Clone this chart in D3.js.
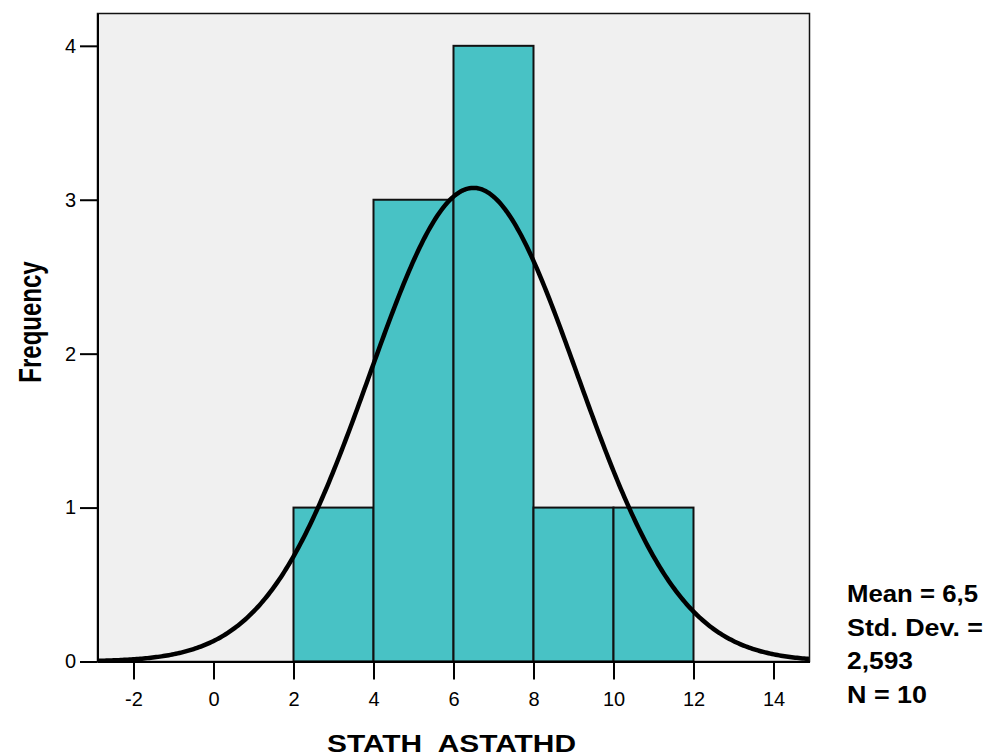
<!DOCTYPE html>
<html>
<head>
<meta charset="utf-8">
<script src="https://cdn.jsdelivr.net/npm/d3@7"></script>
<style>
  html, body { margin: 0; padding: 0; background: #ffffff; }
  svg { display: block; font-family: "Liberation Sans", Arial, sans-serif; }
</style>
</head>
<body>
<svg id="chart" width="985" height="756"></svg>
<script>
// Histogram bins (lower edge, upper edge) and counts
const binStarts = [2, 4, 6, 8, 10];
const binEnds = [4, 6, 8, 10, 12];
const binCounts = [1, 3, 4, 1, 1];

// Summary statistics for the normal curve
const meanValue = 6.5;
const stdDev = 2.593;
const nCases = 10;

const xTicks = [-2, 0, 2, 4, 6, 8, 10, 12, 14];
const yTicks = [0, 1, 2, 3, 4];
const xDomain = [-2.9, 14.9];
const yDomain = [0, 4.21];

const legendLines = ["Mean = 6,5", "Std. Dev. =", "2,593", "N = 10"];
const legendWidths = [131, 136, 66, 80];
const xTitle = "STATH  ASTATHD";
const yTitle = "Frequency";

const svg = d3.select("#chart");
const plot = { left: 97.5, right: 809.5, top: 13.5, bottom: 661.5 };

const x = d3.scaleLinear().domain(xDomain).range([plot.left, plot.right]);
const y = d3.scaleLinear().domain(yDomain).range([plot.bottom, plot.top]);

// plot background
svg.append("rect")
  .attr("x", plot.left).attr("y", plot.top)
  .attr("width", plot.right - plot.left).attr("height", plot.bottom - plot.top)
  .attr("fill", "#f0f0f0");

// bars
const bins = binStarts.map((s, i) => ({ x0: s, x1: binEnds[i], n: binCounts[i] }));
svg.append("g").selectAll("rect").data(bins).join("rect")
  .attr("x", d => x(d.x0))
  .attr("y", d => y(d.n))
  .attr("width", d => x(d.x1) - x(d.x0))
  .attr("height", d => y(0) - y(d.n))
  .attr("fill", "#48c2c5")
  .attr("stroke", "#111")
  .attr("stroke-width", 2);

// normal curve scaled to counts: N * binWidth * pdf
const binWidth = binEnds[0] - binStarts[0];
const pdf = v => Math.exp(-0.5 * ((v - meanValue) / stdDev) ** 2) / (stdDev * Math.sqrt(2 * Math.PI));
const curvePts = d3.range(0, 401).map(i => {
  const v = xDomain[0] + (xDomain[1] - xDomain[0]) * i / 400;
  return [v, nCases * binWidth * pdf(v)];
});
svg.append("path")
  .datum(curvePts)
  .attr("d", d3.line().x(d => x(d[0])).y(d => y(d[1])))
  .attr("fill", "none")
  .attr("stroke", "#000")
  .attr("stroke-width", 4.5)
  .attr("stroke-linecap", "butt");

// frame
svg.append("rect")
  .attr("x", plot.left).attr("y", plot.top)
  .attr("width", plot.right - plot.left).attr("height", plot.bottom - plot.top)
  .attr("fill", "none")
  .attr("stroke", "#111")
  .attr("stroke-width", 1.5);

// x axis
const xAxis = svg.append("g")
  .attr("transform", `translate(0,${plot.bottom})`)
  .call(d3.axisBottom(x).tickValues(xTicks).tickSize(18).tickSizeOuter(0).tickPadding(12).tickFormat(d => String(d)));
xAxis.select(".domain").attr("stroke", "#000").attr("stroke-width", 2);
xAxis.selectAll(".tick line").attr("stroke", "#000").attr("stroke-width", 2);
xAxis.selectAll(".tick text")
  .style("font-size", "20px")
  .style("font-family", "'Liberation Sans', Arial, sans-serif")
  .attr("fill", "#000");

// y axis
const yAxis = svg.append("g")
  .attr("transform", `translate(${plot.left},0)`)
  .call(d3.axisLeft(y).tickValues(yTicks).tickSize(17.5).tickSizeOuter(0).tickPadding(4).tickFormat(d => String(d)));
yAxis.select(".domain").attr("stroke", "#000").attr("stroke-width", 2);
yAxis.selectAll(".tick line").attr("stroke", "#000").attr("stroke-width", 2);
yAxis.selectAll(".tick text")
  .style("font-size", "20px")
  .style("font-family", "'Liberation Sans', Arial, sans-serif")
  .attr("fill", "#000");

// axis titles
svg.append("text")
  .attr("x", 451.5)
  .attr("y", 752)
  .attr("text-anchor", "middle")
  .attr("font-size", 24).attr("font-weight", "bold")
  .attr("textLength", 249)
  .attr("lengthAdjust", "spacingAndGlyphs")
  .style("white-space", "pre")
  .text(xTitle);

svg.append("text")
  .attr("transform", "translate(40.5,322) rotate(-90) scale(1,1.3)")
  .attr("text-anchor", "middle")
  .attr("font-size", 24).attr("font-weight", "bold")
  .text(yTitle);

// summary statistics block
svg.append("g").selectAll("text").data(legendLines).join("text")
  .attr("x", 847)
  .attr("y", (d, i) => 602 + i * 33.5)
  .attr("font-size", 23).attr("font-weight", "bold")
  .attr("textLength", (d, i) => legendWidths[i])
  .attr("lengthAdjust", "spacingAndGlyphs")
  .text(d => d);
</script>
</body>
</html>
